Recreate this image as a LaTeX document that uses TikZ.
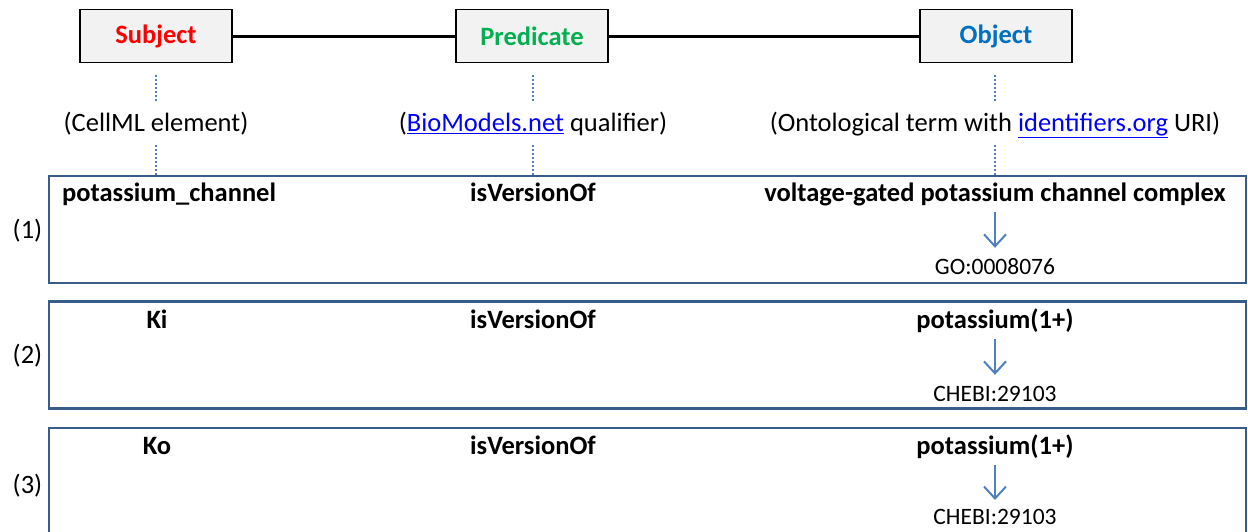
\documentclass[tikz,border=0pt]{standalone}
\usepackage{fontspec}
\setmainfont{Carlito}
\usetikzlibrary{arrows.meta}
\definecolor{subjc}{RGB}{255,0,0}
\definecolor{predc}{RGB}{0,176,80}
\definecolor{objc}{RGB}{0,112,192}
\definecolor{dotc}{RGB}{79,129,189}
\definecolor{rowc}{RGB}{56,93,138}
\definecolor{boxfill}{RGB}{242,242,242}
\definecolor{linkc}{RGB}{0,0,255}
\newcommand{\linktext}[1]{\textcolor{linkc}{\underline{#1}}}
\begin{document}
\begin{tikzpicture}[x=1pt,y=-1pt,
  hdr/.style={draw=black,line width=1.3pt,fill=boxfill,minimum width=152pt,minimum height=53pt,inner sep=0pt,font=\fontsize{26.5}{30}\selectfont\bfseries},
  lab/.style={inner sep=0pt,text height=19.9pt,text depth=6.6pt,font=\fontsize{26.5}{30}\selectfont},
  rowtxt/.style={inner sep=0pt,text height=19.9pt,text depth=6.6pt,font=\fontsize{26.5}{30}\selectfont\bfseries},
  idtxt/.style={inner sep=0pt,text height=17.6pt,text depth=2pt,font=\fontsize{23.5}{27}\selectfont},
  rowbox/.style={draw=rowc,line width=2.2pt,minimum width=1197pt,inner sep=0pt},
  dotln/.style={draw=dotc,line width=2pt,dash pattern=on 2pt off 2pt},
  idarrow/.style={draw=dotc,line width=2pt,-{Straight Barb[length=12pt,width=22pt,line width=2pt]},shorten <=3.75pt,shorten >=9.25pt},
  tripleln/.style={draw=black,line width=3pt}
]
\useasboundingbox (0,0) rectangle (1248,531);

% header boxes
\node[hdr,text=subjc] (s) at (156,36) {Subject};
\node[hdr,text=predc] (p) at (532,36) {Predicate};
\node[hdr,text=objc] (o) at (996,36) {Object};
\draw[tripleln] (s.east) -- (p.west);
\draw[tripleln] (p.east) -- (o.west);

% header labels
\node[lab] (ls) at (156,125) {(CellML element)};
\node[lab] (lp) at (533,125) {(\linktext{BioModels.net} qualifier)};
\node[lab] (lo) at (995,125) {(Ontological term with \linktext{identifiers.org} URI)};

% row boxes
\node[rowbox,minimum height=107pt] (r1) at (647.5,229.5) {};
\node[rowbox,minimum height=107pt] (r2) at (647.5,355) {};
\node[rowbox,minimum height=112pt] (r3) at (647.5,484) {};

% dotted links
\draw[dotln,shorten <=12pt,shorten >=8.75pt] (s.south) -- (ls.north);
\draw[dotln,shorten <=12pt,shorten >=8.75pt] (p.south -| lp.north) -- (lp.north);
\draw[dotln,shorten <=12pt,shorten >=8.75pt] (o.south -| lo.north) -- (lo.north);
\draw[dotln,shorten <=6.75pt] (ls.south) -- (ls.south |- r1.north);
\draw[dotln,shorten <=6.75pt] (lp.south) -- (lp.south |- r1.north);
\draw[dotln,shorten <=6.75pt] (lo.south) -- (lo.south |- r1.north);

% row numbers
\node[lab] (n1) at (27.5,232) {(1)};
\node[lab] (n2) at (27.5,357) {(2)};
\node[lab] (n3) at (27.5,487) {(3)};

% row 1
\node[rowtxt,anchor=west] (a1) at (62,195) {potassium\_channel};
\node[rowtxt] (b1) at (533,195) {isVersionOf};
\node[rowtxt] (c1) at (995,195) {voltage-gated potassium channel complex};
\node[idtxt] (d1) at (995,267.05) {GO:0008076};
\draw[idarrow] (c1.south) -- (d1.north);

% row 2
\node[rowtxt] (a2) at (157,322) {Ki};
\node[rowtxt] (b2) at (533,322) {isVersionOf};
\node[rowtxt] (c2) at (995,322) {potassium(1+)};
\node[idtxt] (d2) at (995,394.05) {CHEBI:29103};
\draw[idarrow] (c2.south) -- (d2.north);

% row 3
\node[rowtxt] (a3) at (157,448) {Ko};
\node[rowtxt] (b3) at (533,448) {isVersionOf};
\node[rowtxt] (c3) at (995,448) {potassium(1+)};
\node[idtxt] (d3) at (995,517) {CHEBI:29103};
\draw[idarrow,shorten >=7pt] (c3.south) -- (d3.north);
\end{tikzpicture}
\end{document}
